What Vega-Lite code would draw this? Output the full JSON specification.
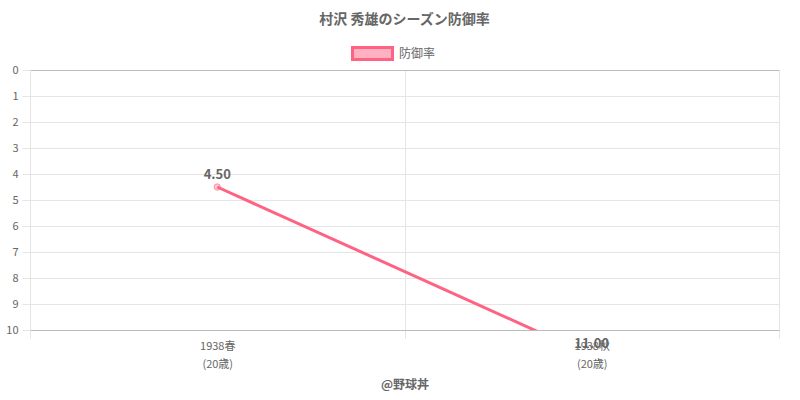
{
  "$schema": "https://vega.github.io/schema/vega-lite/v6.json",
  "width": 749,
  "height": 260,
  "autosize": {"type": "none"},
  "padding": {"left": 30, "top": 70, "right": 21, "bottom": 70},
  "background": "white",
  "title": {"text": "村沢 秀雄のシーズン防御率", "fontSize": 14, "fontWeight": "bold", "color": "#666", "font": "Noto Sans CJK JP", "anchor": "middle", "offset": 5},
  "data": {"values": [
    {"season": "1938春|(20歳)", "era": 4.5, "label": "4.50", "series": "防御率"},
    {"season": "1938秋|(20歳)", "era": 11.0, "label": "11.00", "series": "防御率"}
  ]},
  "encoding": {
    "x": {"field": "season", "type": "nominal", "sort": null,
      "scale": {"type": "band", "paddingInner": 0, "paddingOuter": 0},
      "axis": {"title": "@野球丼", "titleFontSize": 12, "titleFontWeight": "bold", "titleColor": "#666", "titleFont": "Noto Sans CJK JP", "titlePadding": 10,
        "labelExpr": "split(datum.label, '|')", "labelAngle": 0, "labelFontSize": 11, "labelColor": "#666", "labelFont": "Noto Sans CJK JP", "labelLineHeight": 18, "labelPadding": 2,
        "tickBand": "extent", "tickSize": 8, "tickColor": "#e5e5e5", "grid": true, "gridColor": "#e5e5e5", "domainColor": "#bbb"}},
    "y": {"field": "era", "type": "quantitative",
      "scale": {"domain": [0, 10], "reverse": true, "nice": false, "zero": false},
      "axis": {"title": null, "values": [0,1,2,3,4,5,6,7,8,9,10], "labelFontSize": 11, "labelColor": "#666", "labelFont": "Noto Sans CJK JP", "tickSize": 8, "labelPadding": 4, "tickColor": "#e5e5e5",
        "gridColor": {"condition": {"test": "datum.value === 0", "value": "#bbb"}, "value": "#e5e5e5"}, "domainColor": "#e5e5e5"}}
  },
  "layer": [
    {"mark": {"type": "line", "clip": true, "strokeWidth": 3, "color": "#ff6384"},
     "encoding": {"color": {"field": "series", "type": "nominal", "scale": {"range": ["#ff6384"]},
       "legend": {"title": null, "orient": "none", "legendX": 321, "legendY": -38, "symbolType": "M-1,-0.3L1,-0.3L1,0.3L-1,0.3Z", "symbolSize": 1600, "symbolFillColor": "rgba(255,99,132,0.5)", "symbolStrokeColor": "#ff6384", "symbolStrokeWidth": 3, "labelFontSize": 12, "labelColor": "#666", "labelFont": "Noto Sans CJK JP", "labelOffset": 5}}}},
    {"mark": {"type": "point", "clip": true, "shape": "circle", "size": 40, "filled": true, "fill": "rgba(255,99,132,0.5)", "stroke": "#ff6384", "strokeWidth": 1}},
    {"mark": {"type": "text", "dy": -12, "fontSize": 13, "fontWeight": "bold", "color": "#666", "font": "Noto Sans CJK JP"},
     "encoding": {"text": {"field": "label"}}}
  ],
  "config": {"view": {"stroke": null}, "axis": {"domainWidth": 1}}
}
